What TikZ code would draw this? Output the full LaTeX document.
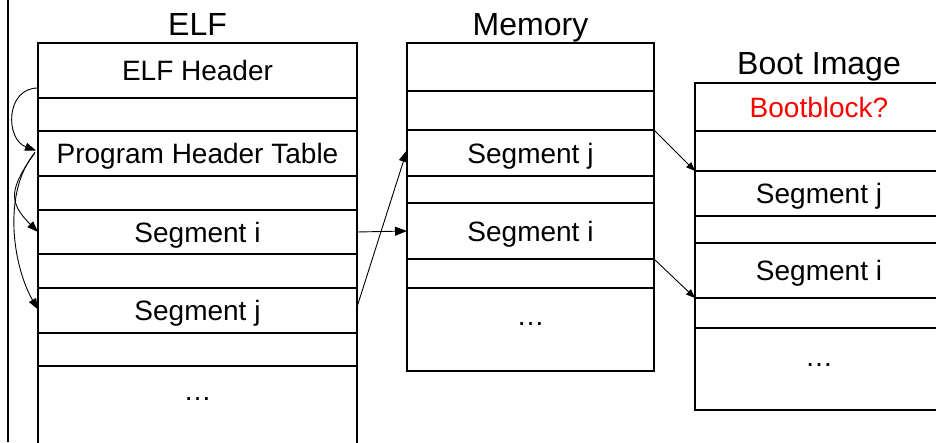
\documentclass[tikz,border=0pt]{standalone}
\usepackage{fontspec}
\setmainfont{Liberation Sans}
\usetikzlibrary{arrows.meta}

\begin{document}
\begin{tikzpicture}[x=1pt,y=-1pt,
  row/.style={draw, line width=1.3pt, inner sep=0pt, outer sep=0pt,
    font=\fontsize{28pt}{34pt}\selectfont, text height=24pt, text depth=4pt},
  elfrow/.style={row, minimum width=319pt},
  memrow/.style={row, minimum width=247pt},
  bootrow/.style={row, minimum width=248pt},
  dots/.style={font=\fontsize{28pt}{34pt}\selectfont, anchor=base},
  title/.style={font=\fontsize{32pt}{38pt}\selectfont, anchor=base},
  bigarrow/.style={-{Triangle[length=12pt,width=9pt]}, line width=0.9pt},
  smallarrow/.style={-{Triangle[length=9pt,width=7pt]}, line width=0.9pt},
  curvearrow/.style={-{Triangle[length=11pt,width=8pt]}, line width=0.9pt}]

\useasboundingbox (0,0) rectangle (936,442);
\clip (0,0) rectangle (936,442);

% Left border line
\coordinate (lt) at (8,0);
\coordinate (lb) at (8,442);
\draw[line width=2.4pt] (lt) -- (lb);

% ELF column
\node[elfrow, minimum height=55pt] (e1) at (197.5,70.5) {ELF Header};
\node[elfrow, minimum height=33pt] (e2) at (197.5,114.5) {};
\node[elfrow, minimum height=45pt] (e3) at (197.5,153.5) {Program Header Table};
\node[elfrow, minimum height=34pt] (e4) at (197.5,193) {};
\node[elfrow, minimum height=44pt] (e5) at (197.5,232) {Segment i};
\node[elfrow, minimum height=34pt] (e6) at (197.5,271) {};
\node[elfrow, minimum height=45pt] (e7) at (197.5,310.5) {Segment j};
\node[elfrow, minimum height=33pt] (e8) at (197.5,349.5) {};
\node[elfrow, minimum height=100pt] (e9) at (197.5,416) {};
\node[dots] (edots) at (197.5,400) {…};

% Memory column
\node[memrow, minimum height=48pt] (m1) at (530.5,67) {};
\node[memrow, minimum height=39pt] (m2) at (530.5,110.5) {};
\node[memrow, minimum height=46pt] (m3) at (530.5,153) {Segment j};
\node[memrow, minimum height=27pt] (m4) at (530.5,189.5) {};
\node[memrow, minimum height=56pt] (m5) at (530.5,231) {Segment i};
\node[memrow, minimum height=29pt] (m6) at (530.5,273.5) {};
\node[memrow, minimum height=83pt] (m7) at (530.5,329.5) {};
\node[dots] (mdots) at (530.5,325) {…};

% Boot image column
\node[bootrow, minimum height=48pt, text=red] (b1) at (819,107) {Bootblock?};
\node[bootrow, minimum height=40pt] (b2) at (819,151) {};
\node[bootrow, minimum height=45pt] (b3) at (819,193.5) {Segment j};
\node[bootrow, minimum height=27pt] (b4) at (819,229.5) {};
\node[bootrow, minimum height=55pt] (b5) at (819,270.5) {Segment i};
\node[bootrow, minimum height=30pt] (b6) at (819,313) {};
\node[bootrow, minimum height=82pt] (b7) at (819,369) {};
\node[dots] (bdots) at (819,366) {…};

% Titles
\node[title] (telf) at ([yshift=8pt]e1.north) {ELF};
\node[title] (tmem) at ([yshift=8pt]m1.north) {Memory};
\node[title] (tboot) at ([yshift=9pt]b1.north) {Boot Image};

% ELF -> memory
\draw[bigarrow] (e5.east) -- (m5.west);
\draw[bigarrow] ([yshift=3.5pt]e7.east) -- ([yshift=3pt]m3.west);

% memory -> boot image
\draw[smallarrow] (m3.north east) -- (b3.north west);
\draw[smallarrow] (m5.south east) -- (b5.south west);

% header references
\draw[curvearrow] ([yshift=10pt]e1.south west) to[out=180,in=160,looseness=1.34] ([xshift=-2pt,yshift=3pt]e3.west);
\draw[curvearrow] ([xshift=-3pt,yshift=1pt]e3.west) to[out=235,in=135,looseness=1.4] (e5.west);
\draw[curvearrow] ([xshift=-3pt,yshift=1pt]e3.west) to[out=230,in=120,looseness=0.83] ([yshift=1pt]e7.west);

\end{tikzpicture}
\end{document}
